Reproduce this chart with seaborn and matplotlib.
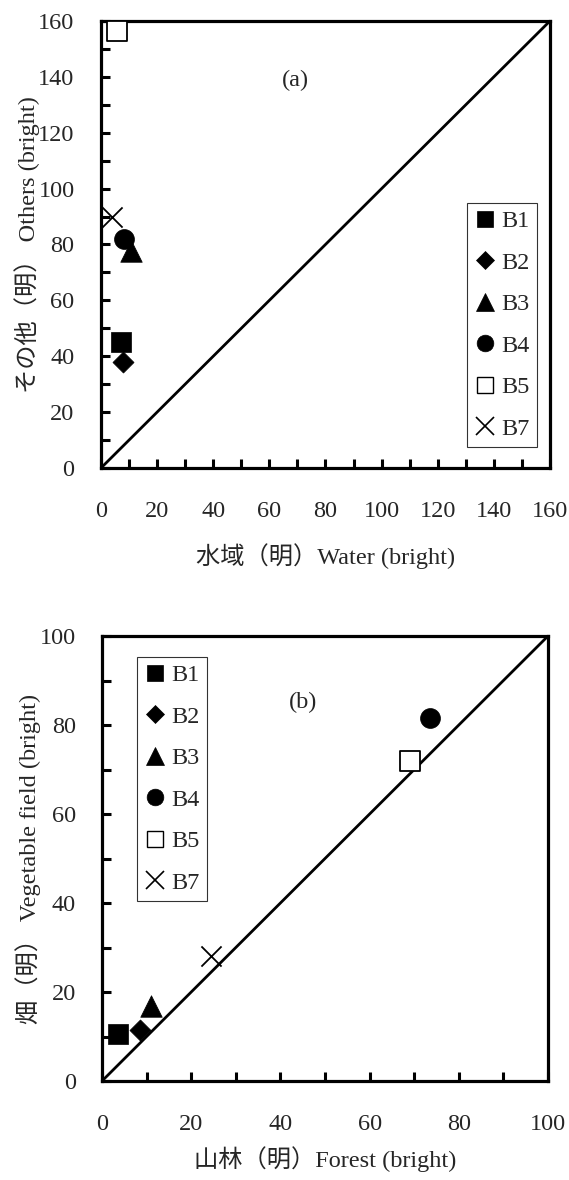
import matplotlib
matplotlib.use('Agg')
import matplotlib.pyplot as plt
from matplotlib.lines import Line2D
from matplotlib.ticker import MultipleLocator
import seaborn as sns
import pandas as pd

sns.set_style('white')
plt.rcParams['font.family'] = ['Liberation Serif', 'Noto Sans CJK JP']

series = ['B1', 'B2', 'B3', 'B4', 'B5', 'B7']
markers = {'B1': 's', 'B2': 'D', 'B3': '^', 'B4': 'o', 'B5': 's', 'B7': 'x'}
sizes = {'B1': 190, 'B2': 115, 'B3': 240, 'B4': 205, 'B5': 200, 'B7': 210}
faces = {'B1': 'black', 'B2': 'black', 'B3': 'black', 'B4': 'black', 'B5': 'white', 'B7': 'black'}

# panel (a)
water = [7.0, 7.7, 10.6, 8.2, 5.6, 4.0]
others = [45, 38, 77.5, 82, 156.5, 90]
# panel (b)
forest = [3.5, 8.6, 11.0, 73.5, 69.0, 24.5]
vegetable = [10.6, 11.5, 16.9, 81.5, 72.0, 28.2]

df_a = pd.DataFrame({'Series': series, 'x': water, 'y': others})
df_b = pd.DataFrame({'Series': series, 'x': forest, 'y': vegetable})

FS = 17.5

fig = plt.figure(figsize=(5.69, 11.8), dpi=100)
ax_a = fig.add_axes([0.1775, 0.6034, 0.789, 0.3788])
ax_b = fig.add_axes([0.1793, 0.0839, 0.7838, 0.3771])


def draw_panel(ax, df, lim, xlabel, ylabel, tag, tag_pos, legend_loc, xlabelpad):
    ax.axline((0, 0), slope=1, color='black', linewidth=2.0, zorder=1)
    for s in series:
        d = df[df['Series'] == s]
        if markers[s] == 'x':
            sns.scatterplot(data=d, x='x', y='y', marker='x', s=sizes[s],
                            color='black', linewidth=1.3, ax=ax, zorder=3)
        else:
            sns.scatterplot(data=d, x='x', y='y', marker=markers[s], s=sizes[s],
                            color=faces[s], edgecolor='black',
                            linewidth=1.3 if faces[s] == 'white' else 0.5,
                            ax=ax, zorder=3)
    ax.set_xlim(0, lim)
    ax.set_ylim(0, lim)
    ax.xaxis.set_major_locator(MultipleLocator(20))
    ax.yaxis.set_major_locator(MultipleLocator(20))
    ax.xaxis.set_minor_locator(MultipleLocator(10))
    ax.yaxis.set_minor_locator(MultipleLocator(10))
    ax.tick_params(which='both', direction='in', length=6.5, width=2.2,
                   bottom=True, left=True, top=False, right=False,
                   labelsize=FS, color='black')
    ax.tick_params(axis='x', which='both', pad=24)
    ax.tick_params(axis='y', which='both', pad=19)
    for sp in ax.spines.values():
        sp.set_linewidth(2.3)
        sp.set_color('black')
    ax.set_xlabel(xlabel, fontsize=FS, labelpad=xlabelpad)
    ax.set_ylabel(ylabel, fontsize=FS)
    ax.yaxis.label.set_va('center')
    ax.yaxis.set_label_coords(-0.165, 0.5)
    ax.text(tag_pos[0], tag_pos[1], tag, transform=ax.transAxes,
            fontsize=FS, ha='center', va='center')

    handles = []
    for s in series:
        if markers[s] == 'x':
            h = Line2D([], [], linestyle='none', marker='x', markersize=13,
                       color='black', markeredgewidth=1.2)
        else:
            ms = {'s': 12 if faces[s] == 'black' else 11, 'D': 9, '^': 13.5, 'o': 12}[markers[s]]
            h = Line2D([], [], linestyle='none', marker=markers[s], markersize=ms,
                       markerfacecolor=faces[s], markeredgecolor='black',
                       markeredgewidth=1.0 if faces[s] == 'white' else 0.5)
        handles.append(h)
    leg = ax.legend(handles, series, loc=legend_loc[0], bbox_to_anchor=legend_loc[1],
                    fontsize=FS, frameon=True, fancybox=False, handlelength=0.9,
                    handletextpad=0.2, labelspacing=0.8, borderpad=0.3,
                    borderaxespad=0)
    leg.get_frame().set_edgecolor('black')
    leg.get_frame().set_linewidth(0.8)


draw_panel(ax_a, df_a, 160, '水域（明）Water (bright)', 'その他（明） Others (bright)',
           '(a)', (0.434, 0.868), ('lower right', (0.971, 0.047)), 15)
draw_panel(ax_b, df_b, 100, '山林（明）Forest (bright)', '畑（明） Vegetable field (bright)',
           '(b)', (0.45, 0.85), ('upper left', (0.078, 0.953)), 8)

fig.savefig('out.png', dpi=100)
